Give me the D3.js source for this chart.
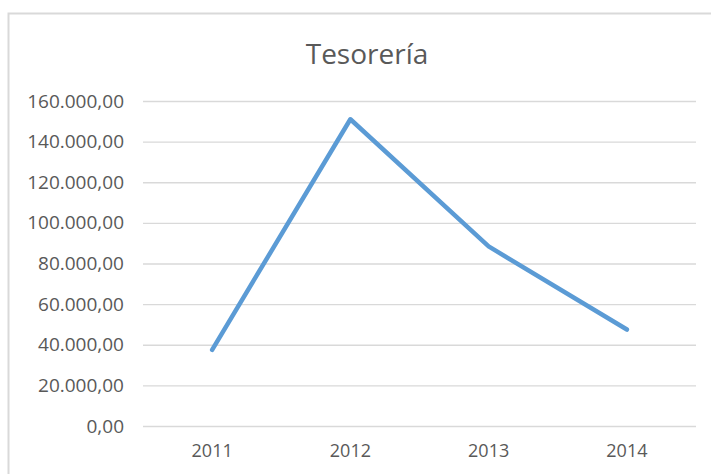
<!DOCTYPE html>
<html>
<head>
<meta charset="utf-8">
<script src="https://cdn.jsdelivr.net/npm/d3@7"></script>
<style>
  body { margin: 0; background: #fff; }
  text { font-family: "Open Sans", sans-serif; fill: #595959; }
</style>
</head>
<body>
<svg id="chart"></svg>
<script>
const years = ["2011", "2012", "2013", "2014"];
const tesoreria = [37500, 151000, 88400, 47500];
const yTicks = [0, 20000, 40000, 60000, 80000, 100000, 120000, 140000, 160000];

const W = 711, H = 474;
const margin = { top: 101, right: 15, bottom: 48, left: 143 };

const svg = d3.select("#chart").attr("width", W).attr("height", H);

// chart frame (cut off right and bottom like the screenshot)
svg.append("rect")
  .attr("x", 8.5).attr("y", 13.5)
  .attr("width", 720).attr("height", 480)
  .attr("fill", "#fff")
  .attr("stroke", "#d9d9d9")
  .attr("stroke-width", 2);

const x = d3.scaleBand().domain(years).range([margin.left, W - margin.right]);
const y = d3.scaleLinear().domain([0, 160000]).range([H - margin.bottom, margin.top]);

// es-style number format: 160.000,00
const fmt = d3.formatLocale({ decimal: ",", thousands: ".", grouping: [3], currency: ["", "€"] }).format(",.2f");

// gridlines + y labels
const yAxis = d3.axisLeft(y)
  .tickValues(yTicks)
  .tickSize(-(W - margin.right - margin.left))
  .tickPadding(19)
  .tickFormat(fmt);

svg.append("g")
  .attr("transform", `translate(${margin.left},0)`)
  .call(yAxis)
  .call(g => g.select(".domain").remove())
  .call(g => g.selectAll("line").attr("stroke", "#d9d9d9").attr("stroke-width", 1.3))
  .call(g => g.selectAll("text").attr("font-size", 19).attr("fill", "#595959"));

// x labels
svg.append("g")
  .attr("transform", `translate(0,${H - margin.bottom})`)
  .call(d3.axisBottom(x).tickSize(0).tickPadding(18))
  .call(g => g.select(".domain").remove())
  .call(g => g.selectAll("text").attr("font-size", 18).attr("fill", "#595959"));

// line
const line = d3.line()
  .x((d, i) => x(years[i]) + x.bandwidth() / 2)
  .y(d => y(d));

svg.append("path")
  .datum(tesoreria)
  .attr("d", line)
  .attr("fill", "none")
  .attr("stroke", "#5b9bd5")
  .attr("stroke-width", 4.5)
  .attr("stroke-linecap", "round")
  .attr("stroke-linejoin", "round");

// title
svg.append("text")
  .attr("x", 367)
  .attr("y", 64)
  .attr("text-anchor", "middle")
  .attr("font-size", 28)
  .text("Tesorería");
</script>
</body>
</html>
